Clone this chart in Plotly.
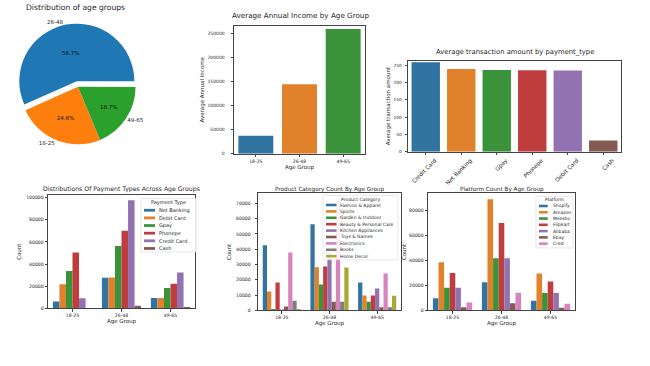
import plotly.graph_objects as go

W, H = 650, 366
def X(px): return px / W
def Y(py): return 1 - py / H

FONT = "DejaVu Sans"
TXT = "#262626"
TAB = ["#1f77b4", "#ff7f0e", "#2ca02c"]
SNS = ["#3274a1", "#e1812c", "#3a923a", "#c03d3e", "#9372b2",
       "#845b53", "#d684bd", "#7f7f7f", "#a9aa35"]

# ---------------- data ----------------
age_groups = ["18-25", "26-48", "49-65"]

pie_labels = ["26-48", "18-25", "49-65"]
pie_share = [56.7, 24.6, 18.7]

avg_income = [37200, 144600, 259700]

pay_types_avg = ["Credit Card", "Net Banking", "Gpay", "Phonepe", "Debit Card", "Cash"]
avg_amount = [258.6, 239.7, 236.8, 235.8, 235.3, 32.4]

pay_types = ["Net Banking", "Debit Card", "Gpay", "Phonepe", "Credit Card", "Cash"]
pay_net_banking = [6300, 27800, 9500]
pay_debit_card = [21800, 28000, 9500]
pay_gpay = [33700, 56400, 18500]
pay_phonepe = [50400, 70100, 22400]
pay_credit_card = [9200, 97600, 32500]
pay_cash = [500, 2500, 700]

categories = ["Fashion & Apparel", "Sports", "Garden & Outdoor", "Beauty & Personal Care",
              "Kitchen Appliances", "Toys & Games", "Electronics", "Books", "Home Decor"]
cat_fashion = [42600, 56300, 18300]
cat_sports = [12400, 28300, 9800]
cat_garden = [1000, 17000, 5600]
cat_beauty = [18200, 28700, 9700]
cat_kitchen = [600, 38000, 14300]
cat_toys = [2500, 5600, 2000]
cat_electronics = [37800, 72500, 24100]
cat_books = [6300, 5600, 2000]
cat_home = [1000, 28000, 9600]

platforms = ["Shopify", "Amazon", "Meesho", "Flipkart", "Alibaba", "Ebay", "Cred"]
plat_shopify = [9800, 22700, 7700]
plat_amazon = [38600, 89300, 29600]
plat_meesho = [18200, 42000, 14000]
plat_flipkart = [30100, 70300, 23300]
plat_alibaba = [18200, 42000, 14000]
plat_ebay = [2600, 5800, 2100]
plat_cred = [6300, 14300, 5300]

pay_series = [pay_net_banking, pay_debit_card, pay_gpay, pay_phonepe, pay_credit_card, pay_cash]
cat_series = [cat_fashion, cat_sports, cat_garden, cat_beauty, cat_kitchen, cat_toys,
              cat_electronics, cat_books, cat_home]
plat_series = [plat_shopify, plat_amazon, plat_meesho, plat_flipkart, plat_alibaba,
               plat_ebay, plat_cred]

fig = go.Figure()

# ---------------- pie ----------------
pie_dom = dict(x=[X(14.2), X(141.8)], y=[Y(151.3), Y(23.7)])
fig.add_trace(go.Pie(
    labels=pie_labels, values=pie_share, sort=False, direction="counterclockwise",
    rotation=-114, pull=[0.1, 0, 0], domain=pie_dom,
    marker=dict(colors=TAB, line=dict(width=0)),
    texttemplate="%{percent:.1%}", textposition="inside",
    insidetextorientation="horizontal",
    textfont=dict(size=5.5, color="#111", family=FONT),
    showlegend=False, hoverinfo="label+percent"))
fig.add_trace(go.Pie(
    labels=pie_labels, values=pie_share, sort=False, direction="counterclockwise",
    rotation=-114, pull=[0.1, 0, 0], domain=pie_dom,
    marker=dict(colors=["rgba(0,0,0,0)"] * 3, line=dict(width=0)),
    textinfo="label", textposition="outside",
    textfont=dict(size=5.5, color=TXT, family=FONT),
    showlegend=False, hoverinfo="skip"))

# ---------------- simple bars ----------------
fig.add_trace(go.Bar(x=age_groups, y=avg_income, marker=dict(color=SNS[:3], line=dict(width=0)),
                     xaxis="x", yaxis="y", showlegend=False))
fig.add_trace(go.Bar(x=pay_types_avg, y=avg_amount, marker=dict(color=SNS[:6], line=dict(width=0)),
                     xaxis="x2", yaxis="y2", showlegend=False))

# ---------------- grouped bars ----------------
for name, vals, col in zip(pay_types, pay_series, SNS):
    fig.add_trace(go.Bar(x=age_groups, y=vals, name=name, marker=dict(color=col, line=dict(width=0)),
                         xaxis="x3", yaxis="y3", showlegend=False))
for name, vals, col in zip(categories, cat_series, SNS):
    fig.add_trace(go.Bar(x=age_groups, y=vals, name=name, marker=dict(color=col, line=dict(width=0)),
                         xaxis="x4", yaxis="y4", showlegend=False))
for name, vals, col in zip(platforms, plat_series, SNS):
    fig.add_trace(go.Bar(x=age_groups, y=vals, name=name, marker=dict(color=col, line=dict(width=0)),
                         xaxis="x5", yaxis="y5", showlegend=False))

# ---------------- axes ----------------
def ax(domain, anchor, title=None, tsize=4.6, tstand=3, **kw):
    d = dict(domain=domain, anchor=anchor, showline=True, mirror=True, linecolor="#444",
             linewidth=0.8, ticks="outside", ticklen=2.5, tickwidth=0.6, tickcolor="#444",
             tickfont=dict(size=tsize, color=TXT, family=FONT), showgrid=False, zeroline=False)
    if title:
        d["title"] = dict(text=title, font=dict(size=5.5, color=TXT, family=FONT), standoff=tstand)
    d.update(kw)
    return d

layout_axes = dict(
    xaxis=ax([X(234), X(365)], "y", "Age Group", tstand=1),
    yaxis=ax([Y(155), Y(26)], "x", "Average Annual Income", tsize=4.5, tstand=2,
             range=[0, 266500], dtick=50000, tickformat="d", ticklabelstandoff=5),
    xaxis2=ax([X(408), X(621)], "y2", tsize=5.6, tickangle=-45, ticklabelshift=9),
    yaxis2=ax([Y(153), Y(61)], "x2", "Average transaction amount", tsize=4.3, tstand=2,
              range=[0, 264], dtick=50, tickformat="d", ticklabelstandoff=2),
    xaxis3=ax([X(48), X(195)], "y3", "Age Group", tstand=1),
    yaxis3=ax([Y(311), Y(196.5)], "x3", "Count", tstand=4, range=[0, 102500], dtick=20000,
              tickformat="d"),
    xaxis4=ax([X(258), X(401)], "y4", "Age Group", tstand=1),
    yaxis4=ax([Y(313), Y(195)], "x4", "Count", tstand=4, range=[0, 76500], dtick=10000,
              tickformat="d", ticklabelstandoff=3),
    xaxis5=ax([X(428), X(575)], "y5", "Age Group", tstand=1),
    yaxis5=ax([Y(313), Y(195)], "x5", "Count", tstand=2, range=[0, 94000], dtick=20000,
              tickformat="d"),
)

# ---------------- titles ----------------
annotations = []
def title(text, cx, cy, size):
    annotations.append(dict(text=text, x=X(cx), y=Y(cy), xref="paper", yref="paper",
                            showarrow=False, xanchor="center", yanchor="middle",
                            font=dict(size=size, color=TXT, family=FONT)))

title("Distribution of age groups", 75.5, 7.5, 7.6)
title("Average Annual Income by Age Group", 300, 16, 7.2)
title("Average transaction amount by payment_type", 514.5, 52.5, 6.8)
title("Distributions Of Payment Types Across Age Groups", 121.5, 191, 6.2)
title("Product Category Count By Age Group", 329.5, 191, 5.7)
title("Platform Count By Age Group", 501.5, 191, 5.7)

# ---------------- legends (drawn inside the axes) ----------------
shapes = []
def legend(ttl, names, colors, box, title_y, first_y, step, sw, text_x, fsize, sw_h=2.6):
    x0, y0, x1, y1 = box
    shapes.append(dict(type="rect", xref="paper", yref="paper", x0=X(x0), x1=X(x1),
                       y0=Y(y1), y1=Y(y0), fillcolor="rgba(255,255,255,0.88)",
                       line=dict(color="#d9d9d9", width=0.6), layer="above"))
    annotations.append(dict(text=ttl, x=X((x0 + x1) / 2), y=Y(title_y), xref="paper", yref="paper",
                            showarrow=False, xanchor="center", yanchor="middle", borderpad=0,
                            font=dict(size=fsize, color=TXT, family=FONT)))
    for i, (n, c) in enumerate(zip(names, colors)):
        yc = first_y + i * step
        shapes.append(dict(type="rect", xref="paper", yref="paper", x0=X(sw[0]), x1=X(sw[1]),
                           y0=Y(yc + sw_h / 2), y1=Y(yc - sw_h / 2), fillcolor=c,
                           line=dict(width=0), layer="above"))
        annotations.append(dict(text=n, x=X(text_x), y=Y(yc), xref="paper", yref="paper",
                                showarrow=False, xanchor="left", yanchor="middle", borderpad=0,
                                font=dict(size=fsize, color=TXT, family=FONT)))

legend("Payment Type", pay_types, SNS, (141, 200, 196, 254), 204.5, 212, 7.7,
       (144, 155), 158, 5.0, 2.8)
legend("Product Category", categories, SNS, (323, 197, 398, 262), 201.5, 206.7, 6.45,
       (326, 336.5), 339, 4.5)
legend("Platform", platforms, SNS, (536, 198, 573, 250), 201.5, 207.7, 6.33,
       (539, 547.7), 551.5, 4.5)

fig.update_layout(
    width=W, height=H, margin=dict(l=0, r=0, t=0, b=0),
    paper_bgcolor="white", plot_bgcolor="white",
    font=dict(family=FONT, color=TXT),
    barmode="group", bargap=0.2, bargroupgap=0,
    annotations=annotations, shapes=shapes,
    **layout_axes)

fig.write_html("out.html", config={"displayModeBar": False},
               post_script="document.body.style.margin='0';document.body.style.overflow='hidden';")
